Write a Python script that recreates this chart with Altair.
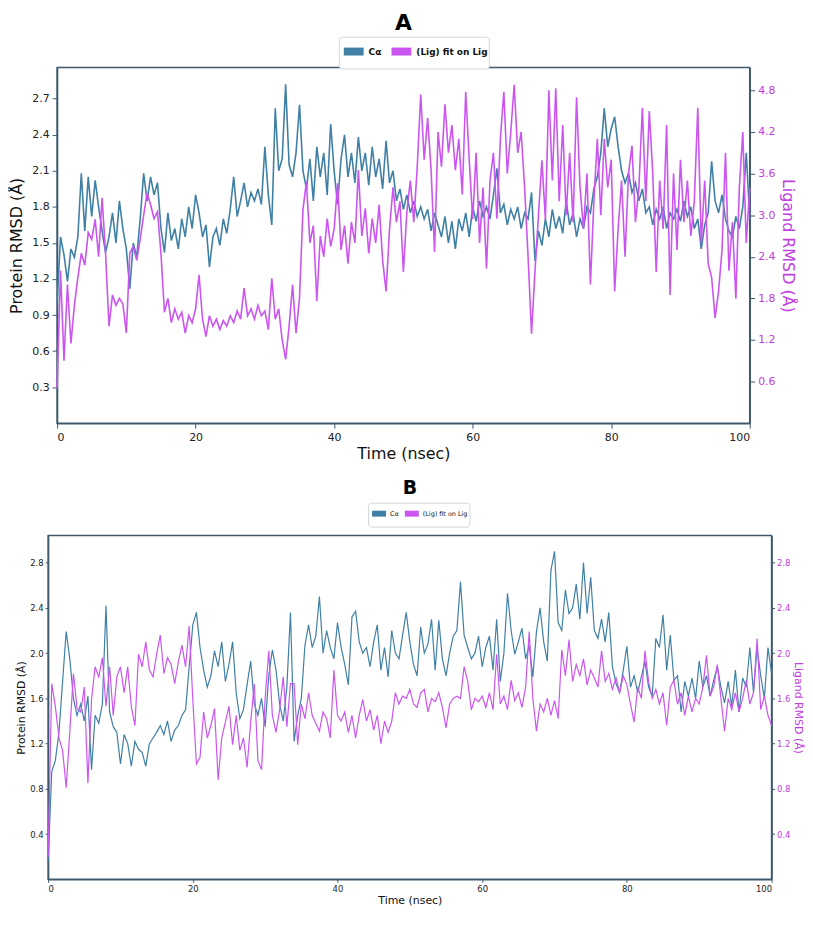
import altair as alt
import pandas as pd

# Time axis (ns), sampled every 0.5 ns
time_ns = [i * 0.5 for i in range(201)]

# Panel A - protein C-alpha RMSD (left axis)
a_protein = [
    1.00, 1.55, 1.40, 1.18, 1.45, 1.38, 1.55, 2.08, 1.60, 2.05,
    1.72, 2.02, 1.80, 1.60, 1.42, 1.55, 1.75, 1.50, 1.85, 1.62,
    1.45, 1.12, 1.50, 1.38, 1.70, 2.08, 1.85, 2.05, 1.90, 2.00,
    1.62, 1.42, 1.75, 1.52, 1.62, 1.45, 1.70, 1.55, 1.80, 1.62,
    1.90, 1.75, 1.55, 1.65, 1.30, 1.55, 1.62, 1.48, 1.70, 1.58,
    1.78, 2.05, 1.72, 1.85, 2.00, 1.80, 1.92, 1.85, 1.95, 1.82,
    2.30, 1.90, 1.65, 2.62, 2.10, 2.20, 2.82, 2.15, 2.05, 2.25,
    2.65, 2.10, 1.95, 2.20, 1.85, 2.30, 2.05, 2.25, 1.90, 2.49,
    2.10, 1.82, 2.20, 2.40, 2.05, 2.25, 2.00, 2.38, 2.10, 2.25,
    1.98, 2.30, 2.05, 2.20, 1.95, 2.35, 2.00, 2.10, 1.85, 1.95,
    1.78, 1.90, 1.75, 1.85, 1.72, 1.80, 1.70, 1.78, 1.60, 1.75,
    1.65, 1.55, 1.72, 1.50, 1.68, 1.45, 1.70, 1.60, 1.75, 1.55,
    1.80, 1.68, 1.85, 1.72, 1.80, 1.70, 1.90, 2.12, 1.75, 1.82,
    1.65, 1.78, 1.70, 1.80, 1.62, 1.75, 1.70, 1.92, 1.35, 1.60,
    1.48, 1.70, 1.55, 1.78, 1.62, 1.72, 1.58, 1.85, 1.65, 1.75,
    1.55, 1.70, 1.62, 1.80, 1.75, 1.95, 2.05, 2.25, 2.62, 2.30,
    2.45, 2.55, 2.30, 2.10, 2.00, 2.08, 1.92, 2.00, 1.85, 1.95,
    1.75, 1.80, 1.65, 1.78, 1.70, 1.80, 1.62, 1.75, 1.70, 1.78,
    1.68, 1.85, 1.72, 1.80, 1.62, 1.70, 1.45, 1.65, 1.75, 2.18,
    1.85, 1.75, 1.90, 1.70, 1.60, 1.55, 1.72, 1.62, 1.80, 2.25,
    1.70,
]

# Panel A - ligand RMSD (right axis)
a_ligand = [
    0.50, 2.20, 0.90, 2.00, 1.15, 1.70, 2.10, 2.45, 2.28, 2.75,
    2.65, 2.94, 2.40, 3.25, 2.45, 1.40, 1.85, 1.70, 1.80, 1.72,
    1.30, 2.45, 2.55, 2.35, 2.65, 3.00, 3.32, 3.15, 2.95, 3.05,
    2.45, 1.60, 1.80, 1.45, 1.65, 1.50, 1.60, 1.30, 1.55, 1.45,
    1.65, 2.14, 1.50, 1.25, 1.55, 1.40, 1.50, 1.35, 1.48, 1.40,
    1.55, 1.45, 1.62, 1.50, 1.95, 1.55, 1.65, 1.50, 1.70, 1.55,
    1.62, 1.35, 2.09, 1.50, 1.65, 1.20, 0.92, 1.40, 2.00, 1.30,
    1.80, 3.08, 3.48, 2.60, 2.85, 1.76, 2.70, 2.40, 2.95, 2.55,
    2.80, 3.46, 2.50, 2.85, 2.30, 2.90, 2.60, 3.65, 2.70, 3.10,
    2.45, 2.95, 2.60, 3.15, 2.35, 1.90, 2.80, 3.40, 2.90, 3.20,
    2.18, 3.05, 3.50, 2.90, 3.70, 4.74, 3.80, 4.40, 3.65, 2.47,
    4.20, 3.70, 4.60, 3.90, 4.30, 3.65, 4.10, 3.30, 4.78, 3.80,
    2.94, 3.90, 2.60, 3.40, 2.23, 3.50, 3.90, 2.95, 4.10, 4.78,
    3.60, 4.20, 4.88, 3.90, 4.20, 3.40, 2.40, 1.29, 2.20, 3.00,
    3.79, 2.94, 4.80, 3.50, 4.83, 3.20, 4.30, 3.00, 3.90, 2.90,
    4.70, 3.40, 2.80, 3.60, 2.00, 3.20, 4.10, 3.00, 4.10, 3.40,
    3.80, 1.90, 2.80, 3.50, 2.40, 3.60, 4.00, 2.90, 3.40, 4.55,
    3.20, 4.50, 3.60, 2.18, 3.50, 2.80, 4.30, 1.85, 3.60, 2.50,
    3.80, 2.90, 3.50, 2.70, 3.20, 4.55, 2.60, 3.50, 2.30, 2.10,
    1.52, 1.90, 2.50, 3.90, 2.20, 2.90, 1.80, 3.40, 4.20, 2.60,
    3.40,
]

# Panel B - protein C-alpha RMSD (left axis)
b_protein = [
    0.15, 0.95, 1.05, 1.30, 1.75, 2.19, 1.95, 1.60, 1.45, 1.55,
    1.40, 1.62, 0.97, 1.45, 1.38, 1.55, 2.42, 1.48, 1.35, 1.30,
    1.02, 1.28, 1.20, 1.00, 1.22, 1.15, 1.12, 1.00, 1.20, 1.25,
    1.30, 1.36, 1.28, 1.40, 1.22, 1.32, 1.36, 1.45, 1.50, 1.88,
    2.25, 2.36, 2.05, 1.85, 1.70, 1.80, 2.02, 1.88, 2.10, 1.75,
    1.90, 2.10, 1.65, 1.42, 1.50, 1.72, 1.93, 1.55, 1.45, 1.60,
    1.35, 1.80, 2.03, 1.85, 1.55, 1.40, 1.70, 2.36, 1.22, 1.45,
    1.60, 2.07, 2.25, 2.05, 2.15, 2.50, 2.00, 2.20, 2.05, 1.95,
    2.27, 2.05, 1.90, 1.72, 2.32, 2.37, 2.10, 2.00, 2.05, 1.88,
    2.10, 2.25, 1.85, 2.05, 1.79, 2.20, 2.00, 1.95, 2.16, 2.36,
    2.10, 1.90, 1.80, 2.23, 2.00, 2.08, 2.30, 1.85, 2.29, 1.95,
    1.80, 2.00, 2.15, 2.20, 2.63, 2.16, 2.05, 1.95, 2.00, 2.15,
    1.88, 2.05, 2.15, 1.85, 2.30, 1.75, 2.00, 2.53, 2.20, 1.99,
    2.10, 2.22, 1.95, 2.07, 1.79, 2.19, 2.40, 2.10, 1.93, 2.73,
    2.90, 2.27, 2.20, 2.56, 2.35, 2.40, 2.61, 2.30, 2.80, 2.35,
    2.67, 2.20, 2.13, 2.30, 2.10, 2.36, 1.88, 1.73, 1.65, 1.85,
    2.06, 1.70, 1.80, 1.65, 1.79, 1.93, 1.70, 1.62, 2.13, 2.05,
    2.34, 1.85, 2.16, 1.76, 1.80, 1.48, 1.75, 1.62, 1.78, 1.60,
    1.93, 1.70, 1.80, 1.62, 1.76, 1.88, 1.70, 1.56, 1.75, 1.53,
    1.85, 1.48, 1.78, 1.70, 2.05, 1.65, 2.05, 1.80, 1.60, 2.05,
    1.82,
]

# Panel B - ligand RMSD (right axis)
b_ligand = [
    0.20, 1.73, 1.53, 1.25, 1.14, 0.81, 1.31, 1.82, 1.51, 1.48,
    1.70, 0.85, 1.59, 1.88, 1.79, 1.96, 1.53, 1.88, 1.45, 1.79,
    1.88, 1.65, 1.88, 1.53, 1.36, 1.99, 1.88, 2.10, 1.85, 1.79,
    1.99, 2.16, 1.82, 1.96, 1.90, 1.73, 1.92, 2.07, 1.88, 2.24,
    1.59, 1.02, 1.08, 1.48, 1.25, 1.36, 1.51, 0.88, 1.25, 1.39,
    1.53, 1.19, 1.45, 1.14, 1.25, 0.99, 1.39, 1.73, 1.05, 0.97,
    1.60, 2.02, 1.45, 1.30, 1.50, 1.79, 1.35, 1.73, 1.73, 1.19,
    1.55, 1.42, 1.65, 1.45, 1.38, 1.31, 1.48, 1.42, 1.25, 1.85,
    1.45, 1.40, 1.48, 1.30, 1.45, 1.25, 1.45, 1.59, 1.40, 1.50,
    1.32, 1.45, 1.20, 1.40, 1.30, 1.40, 1.65, 1.55, 1.62, 1.60,
    1.68, 1.55, 1.52, 1.65, 1.68, 1.48, 1.60, 1.57, 1.65, 1.52,
    1.34, 1.55, 1.60, 1.62, 1.60, 1.88, 1.75, 1.50, 1.60, 1.57,
    1.62, 1.52, 1.65, 1.50, 1.99, 1.55, 1.62, 1.50, 1.76, 1.58,
    1.65, 1.52, 1.70, 2.19, 1.60, 1.31, 1.55, 1.48, 1.60, 1.45,
    1.58, 1.42, 2.03, 1.80, 2.12, 1.75, 1.90, 1.80, 1.95, 1.72,
    1.85, 1.78, 1.70, 2.02, 1.75, 1.82, 1.68, 1.78, 1.65, 1.80,
    1.72, 1.55, 1.39, 1.70, 1.60, 2.02, 1.75, 1.60, 1.68, 1.55,
    1.65, 1.36, 1.70, 1.76, 1.55, 1.65, 1.45, 1.62, 1.48, 1.60,
    1.55, 1.70, 1.98, 1.62, 1.70, 1.90, 1.60, 1.31, 1.60, 1.50,
    1.65, 1.48, 1.60, 1.76, 1.55, 1.65, 2.13, 1.50, 1.62, 1.45,
    1.36,
]

series_names = ["Cα", "(Lig) fit on Lig"]
series_colors = ["#4080a5", "#cb55f0"]
x_ticks = [0, 20, 40, 60, 80, 100]

FONT = "DejaVu Sans"
FRAME = "#3f5a6d"
LIG_TEXT = "#c040e0"


def panel(title, prot, lig, w, h, l_dom, l_ticks, r_dom, r_ticks, big):
    df_p = pd.DataFrame({"t": time_ns, "v": prot, "series": series_names[0]})
    df_l = pd.DataFrame({"t": time_ns, "v": lig, "series": series_names[1]})
    t_fs = 16 if big else 11
    l_fs = 11 if big else 8.5
    sw = 1.6 if big else 1.2
    tick = 5 if big else 3
    lpad = 3 if big else 2
    lw = 130 if big else 84
    leg = alt.Legend(
        title=None, orient="none", direction="horizontal",
        legendX=w / 2 - lw / 2, legendY=-31 if big else -33,
        symbolType="stroke", symbolSize=(20 if big else 14) ** 2,
        symbolStrokeWidth=8 if big else 6,
        labelFontSize=9 if big else 6.5, labelFont=FONT, labelColor="#111",
        labelFontWeight="bold" if big else "normal",
        columnPadding=-6, labelOffset=1, padding=1, gridAlign="none",
        strokeColor="#cfd6dc", cornerRadius=3, fillColor="white",
    )
    color = alt.Color(
        "series:N",
        scale=alt.Scale(domain=series_names, range=series_colors),
        legend=leg,
    )
    x = alt.X(
        "t:Q",
        scale=alt.Scale(domain=[0, 100], nice=False, zero=False),
        axis=alt.Axis(values=x_ticks, title="Time (nsec)", titleFontSize=t_fs,
                      labelFontSize=l_fs, format="d", tickSize=tick,
                      labelPadding=lpad, titlePadding=3 if big else 2),
    )
    left = alt.Chart(df_p).mark_line(strokeWidth=sw).encode(
        x=x,
        y=alt.Y("v:Q", scale=alt.Scale(domain=l_dom, nice=False, zero=False),
                axis=alt.Axis(orient="left", values=l_ticks, format=".1f",
                              title="Protein RMSD (Å)", titleFontSize=t_fs,
                              labelFontSize=l_fs, tickSize=tick, labelPadding=lpad,
                              titlePadding=7 if big else 3)),
        color=color,
    )
    right = alt.Chart(df_l).mark_line(strokeWidth=sw).encode(
        x=x,
        y=alt.Y("v:Q", scale=alt.Scale(domain=r_dom, nice=False, zero=False),
                axis=alt.Axis(orient="right", values=r_ticks, format=".1f",
                              title="Ligand RMSD (Å)", titleFontSize=t_fs,
                              labelFontSize=l_fs, labelColor=LIG_TEXT,
                              titleColor=LIG_TEXT, tickSize=tick, labelPadding=lpad,
                              titlePadding=4 if big else 3)),
        color=color,
    )
    return alt.layer(left, right).resolve_scale(y="independent").properties(
        width=w, height=h,
        title=alt.Title(title, fontSize=22 if big else 19, fontWeight="bold",
                        font=FONT, anchor="middle", offset=1 if big else 4,
                        color="#000"),
    )


chart_a = panel("A", a_protein, a_ligand, 697, 358,
                [0, 2.96], [0.3, 0.6, 0.9, 1.2, 1.5, 1.8, 2.1, 2.4, 2.7],
                [0, 5.13], [0.6, 1.2, 1.8, 2.4, 3.0, 3.6, 4.2, 4.8], True)
chart_b = panel("B", b_protein, b_ligand, 728, 346,
                [0, 3.04], [0.4, 0.8, 1.2, 1.6, 2.0, 2.4, 2.8],
                [0, 3.04], [0.4, 0.8, 1.2, 1.6, 2.0, 2.4, 2.8], False)

chart = alt.vconcat(chart_a, chart_b, spacing=16, center=True).resolve_scale(
    color="independent"
).resolve_legend(
    color="independent"
).properties(
    padding={"left": 0, "top": 0, "right": 0, "bottom": 0}
).configure_view(
    stroke=FRAME, strokeWidth=1.5
).configure_axis(
    grid=False, domainColor=FRAME, tickColor=FRAME,
    labelColor="#222", titleColor="#111", labelFont=FONT, titleFont=FONT,
    titleFontWeight="normal", domainWidth=1.5,
)

chart.save("out.html", embed_options={"renderer": "svg", "actions": False})
